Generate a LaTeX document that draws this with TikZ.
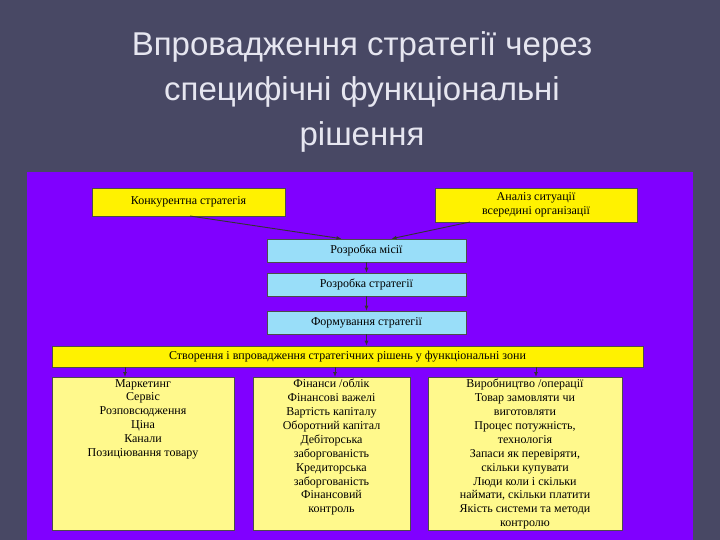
\documentclass[tikz,border=0pt]{standalone}
\usepackage{fontspec}
\setmainfont{Liberation Serif}
\newfontfamily\titlefont{Liberation Sans}
\usetikzlibrary{arrows.meta}
\begin{document}
\begin{tikzpicture}[x=1pt,y=-1pt,
  bx/.style={draw=black!70,line width=0.6pt,inner sep=0pt,font=\fontsize{12}{13.5}\selectfont,align=center},
  yb/.style={bx,fill=yellow},
  cb/.style={bx,fill=cyan!40},
  lb/.style={bx,fill=yellow!45},
  ar/.style={-{Latex[length=5pt,width=4pt]},line width=0.9pt,black!80}]
\fill[fill={rgb,255:red,72;green,72;blue,100}] (0,0) rectangle (720,540);
\useasboundingbox (0,0) rectangle (720,540);
\node[font=\titlefont\fontsize{33}{45}\selectfont,text={rgb,255:red,230;green,230;blue,240},align=center] (title) at (362,92) {Впровадження стратегії через\\специфічні функціональні\\рішення};
\fill[fill={rgb,255:red,128;green,0;blue,255}] (27,172) rectangle (693,540);
\node[yb,minimum width=193,minimum height=28] (k) at (188.5,202) {Конкурентна стратегія};
\node[yb,minimum width=202,minimum height=34] (a) at (536,205) {Аналіз ситуації\\всередині організації};
\node[cb,minimum width=199,minimum height=23] (m) at (366.5,250.5) {Розробка місії};
\node[cb,minimum width=199,minimum height=23] (s) at (366.5,284.5) {Розробка стратегії};
\node[cb,minimum width=199,minimum height=23] (f) at (366.5,322.5) {Формування стратегії};
\node[yb,minimum width=591,minimum height=21] (z) at (347.5,356.5) {Створення і впровадження стратегічних рішень у функціональні зони};
\node[lb,minimum width=182,minimum height=153,anchor=north] (b1) at (143,377) {};
\node[lb,minimum width=157,minimum height=153,anchor=north] (b2) at (331.5,377) {};
\node[lb,minimum width=194,minimum height=153,anchor=north] (b3) at (525,377) {};
\node[anchor=north,font=\fontsize{12}{13.9}\selectfont,align=center,inner sep=2pt] (t1) at (b1.north) {Маркетинг\\Сервіс\\Розповсюдження\\Ціна\\Канали\\Позиціювання товару};
\node[anchor=north,font=\fontsize{12}{13.9}\selectfont,align=center,inner sep=2pt] (t2) at (b2.north) {Фінанси /облік\\Фінансові важелі\\Вартість капіталу\\Оборотний капітал\\Дебіторська\\заборгованість\\Кредиторська\\заборгованість\\Фінансовий\\контроль};
\node[anchor=north,font=\fontsize{12}{13.9}\selectfont,align=center,inner sep=2pt] (t3) at (b3.north) {Виробництво /операції\\Товар замовляти чи\\виготовляти\\Процес потужність,\\технологія\\Запаси як перевіряти,\\скільки купувати\\Люди коли і скільки\\наймати, скільки платити\\Якість системи та методи\\контролю};
\coordinate (k1) at (190,216);
\coordinate (a1) at (470,222);
\draw[ar] (k1) -- ([xshift=-25]m.north);
\draw[ar] (a1) -- ([xshift=25]m.north);
\draw[ar] (m.south) -- (s.north);
\draw[ar] (s.south) -- (f.north);
\draw[ar] (f.south) -- (f.south |- z.north);
\draw[ar] (z.south -| 125,0) coordinate (z1) -- (z1 |- b1.north);
\draw[ar] (z.south -| 335,0) coordinate (z2) -- (z2 |- b2.north);
\draw[ar] (z.south -| 536,0) coordinate (z3) -- (z3 |- b3.north);
\end{tikzpicture}
\end{document}
